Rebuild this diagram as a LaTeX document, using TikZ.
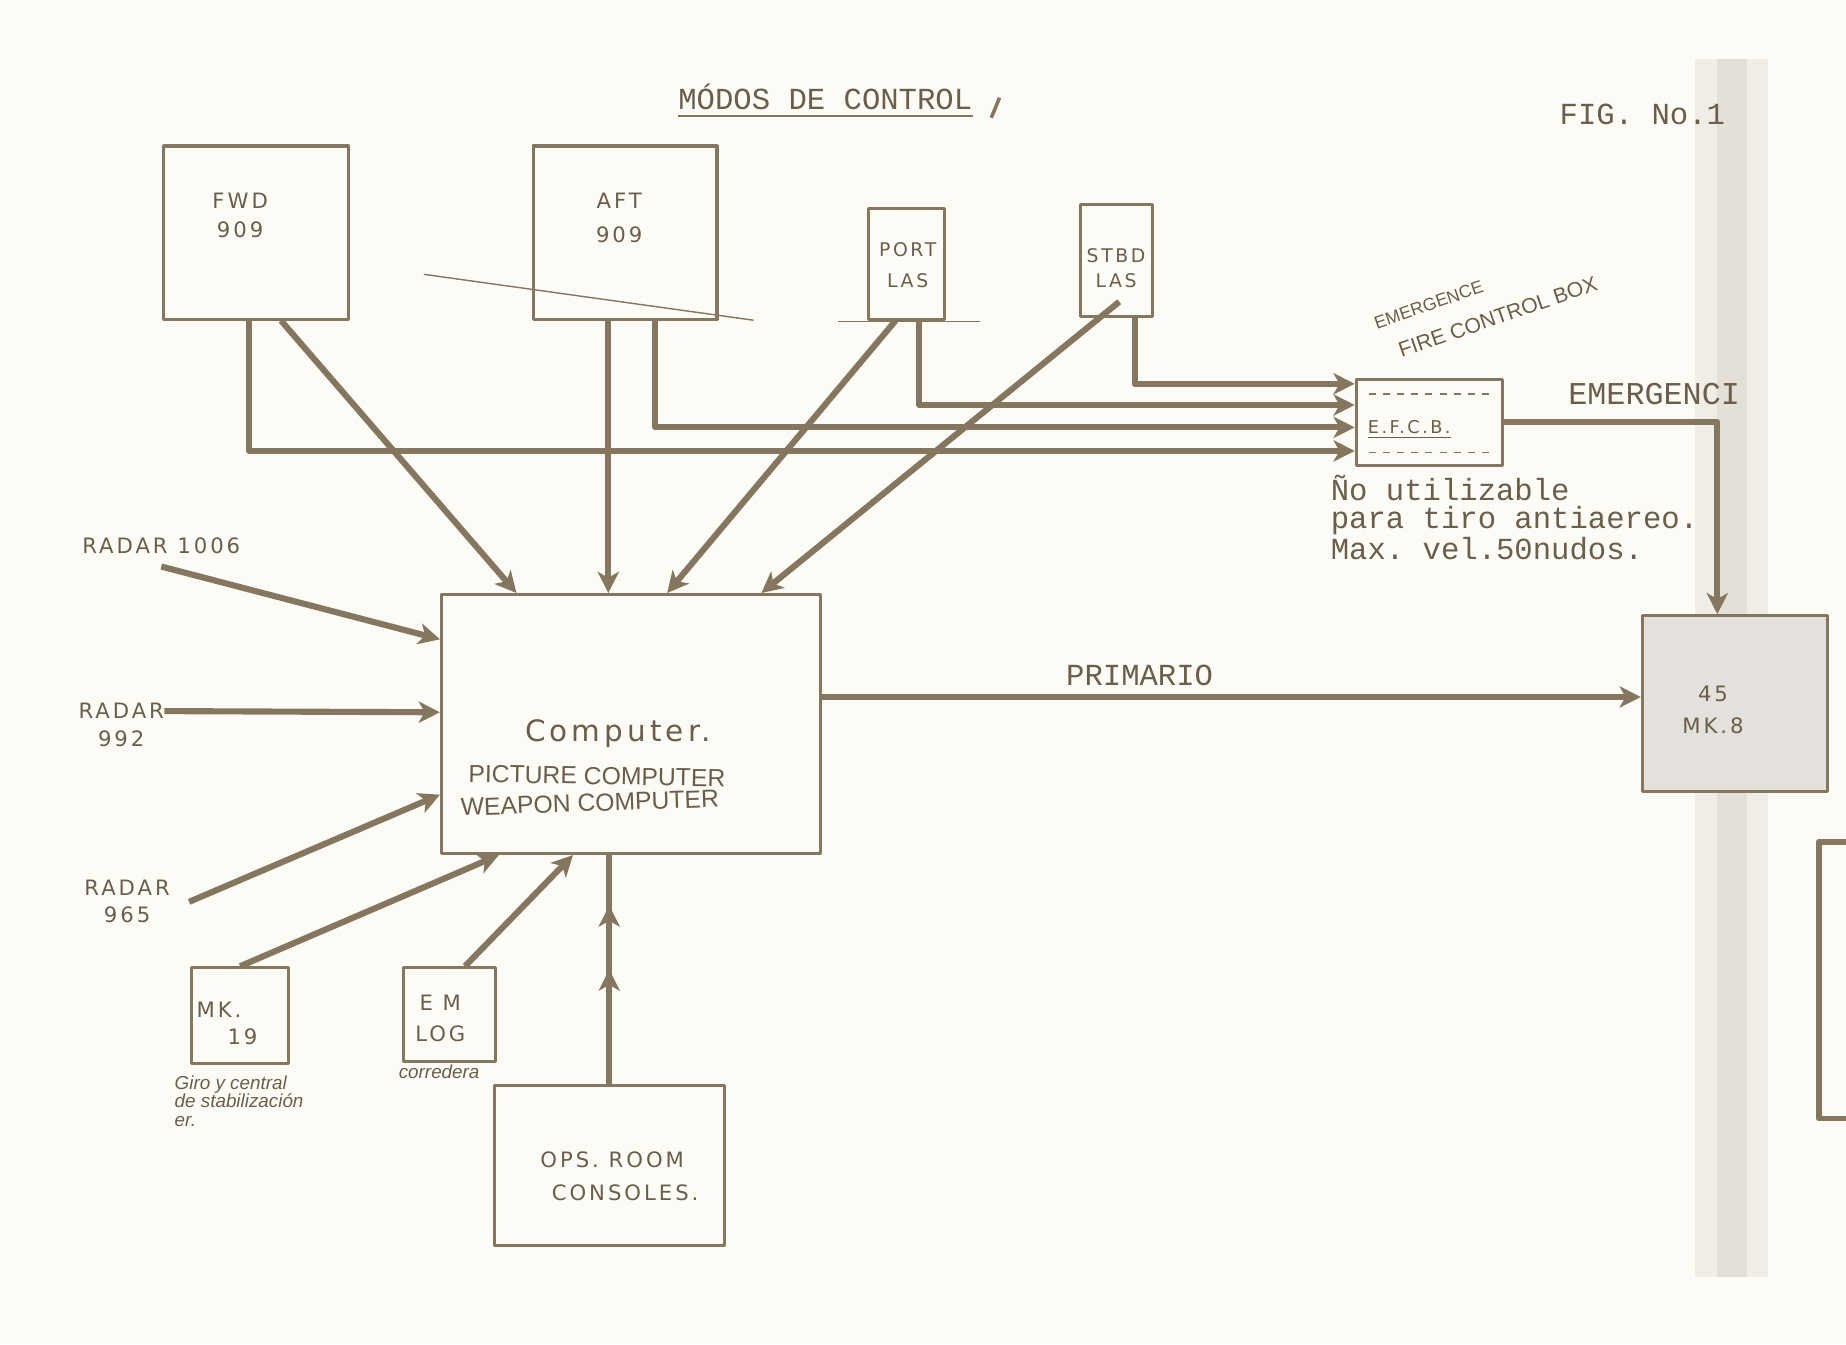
\documentclass[tikz,border=0pt]{standalone}
\usepackage{fontspec}
\setmonofont{Liberation Mono}
\newfontfamily\lettrage[LetterSpace=14]{DejaVu Sans}
\newfontfamily\manuscrit{Liberation Sans}
\usetikzlibrary{arrows.meta,decorations.markings}
\definecolor{encre}{HTML}{857660}
\definecolor{tinta}{HTML}{6B5E4B}
\definecolor{papier}{HTML}{FCFBF6}
\begin{document}
\begin{tikzpicture}[x=0.5pt,y=-0.5pt,line join=round]
\tikzstyle{boite} = [draw=encre,line width=1.3pt,inner sep=0pt]
\tikzstyle{liaison} = [draw=encre,line width=2.6pt,-{Stealth[length=9pt,width=9pt,inset=2.5pt]}]
\tikzstyle{tape} = [text=tinta,font=\ttfamily\fontsize{13}{12}\selectfont,inner sep=0pt]
\tikzstyle{pochoir} = [text=tinta,font=\lettrage\fontsize{9}{12.5}\selectfont,inner sep=0pt,align=center]
\tikzstyle{ecrit} = [text=tinta,font=\manuscrit\fontsize{10.5}{12}\selectfont,inner sep=0pt]
\tikzstyle{penche} = [text=tinta,font=\manuscrit\itshape\fontsize{8}{8}\selectfont,inner sep=0pt]
%fond de page
\fill[papier] (0,0) rectangle (1568,1142);
\useasboundingbox (0,0) rectangle (1568,1142);
\fill[encre,opacity=0.10] (1440,50) rectangle (1502,1085);
\fill[encre,opacity=0.10] (1458,50) rectangle (1484,1085);
%titre
\node[tape] (titre) at (701,82) {MÓDOS DE CONTROL};
\draw[encre,line width=1pt] ([yshift=-2.5pt]titre.south west) -- ([yshift=-2.5pt]titre.south east);
\draw[encre,line width=1.5pt] (849,83) -- (842,100);
\node[tape] (fig) at (1395,97) {FIG. No.1};
%boites
\node[boite,minimum width=78.5pt,minimum height=73.5pt] (fwd) at (217.5,197.5) {};
\node[boite,minimum width=78pt,minimum height=73.5pt] (aft) at (531,197.5) {};
\node[boite,minimum width=32pt,minimum height=47pt] (port) at (770,224) {};
\node[boite,minimum width=30.5pt,minimum height=47.5pt] (stbd) at (948.5,221.5) {};
\node[boite,minimum width=161pt,minimum height=110pt] (comp) at (536,615) {};
\node[boite,minimum width=78.5pt,minimum height=74.5pt,fill=encre!22] (mk8) at (1473.5,597.5) {};
\node[boite,minimum width=62pt,minimum height=36.5pt] (efcb) at (1214,358.5) {};
\node[boite,minimum width=41pt,minimum height=40.5pt] (mk19) at (204,862.5) {};
\node[boite,minimum width=39pt,minimum height=40pt] (emlog) at (382,862) {};
\node[boite,minimum width=97.5pt,minimum height=68pt] (ops) at (517.5,990) {};
%textes des boites
\node[pochoir] (tfwd) at (204,183) {FWD\\909};
\node[pochoir,font=\lettrage\fontsize{9}{14.5}\selectfont] (taft) at (526,185) {AFT\\909};
\node[pochoir,font=\lettrage\fontsize{8}{13}\selectfont] (tport) at (771,225) {PORT\\LAS};
\node[pochoir,font=\lettrage\fontsize{8}{10.5}\selectfont] (tstbd) at (948,228) {STBD\\LAS};
\node[pochoir,font=\lettrage\fontsize{12.5}{14}\selectfont] (tcomp) at (525,623) {Computer.};
\node[ecrit,rotate=-1] (tpic) at (507,659) {PICTURE COMPUTER};
\node[ecrit,rotate=2] (twea) at (501,682) {WEAPON COMPUTER};
\node[pochoir,font=\lettrage\fontsize{9}{13.5}\selectfont] (tmk8) at (1455,603) {45\\MK.8};
\node[pochoir,font=\lettrage\fontsize{7.5}{9}\selectfont] (tefcb) at (1197,365) {\underline{E.F.C.B.}};
\draw[encre,line width=0.8pt,dashed] ([xshift=6pt,yshift=-7pt]efcb.north west) -- ([xshift=-6pt,yshift=-7pt]efcb.north east);
\draw[encre,line width=0.6pt,dashed] ([xshift=6pt,yshift=6pt]efcb.south west) -- ([xshift=-6pt,yshift=6pt]efcb.south east);
\node[pochoir] (tmk19a) at (186,858) {MK.};
\node[pochoir] (tmk19b) at (206,881) {19};
\node[pochoir,font=\lettrage\fontsize{9}{13}\selectfont] (temlog) at (374,865) {E M\\LOG};
\node[pochoir] (tops1) at (520,985) {OPS. ROOM};
\node[pochoir] (tops2) at (531,1013) {CONSOLES.};
%radars
\node[pochoir,font=\lettrage\fontsize{9}{12}\selectfont] (r1006) at (137,464) {RADAR 1006};
\node[pochoir,font=\lettrage\fontsize{9}{12}\selectfont] (r992) at (103,616) {RADAR\\992};
\node[pochoir,font=\lettrage\fontsize{9}{11.5}\selectfont] (r965) at (108,766) {RADAR\\965};
%notes
\node[penche,font=\manuscrit\fontsize{9}{15}\selectfont,rotate=19,align=left] (tfcb) at (1262,258)
  {{\fontsize{7.5}{15}\selectfont EMERGENCE}\\\hspace*{6pt}FIRE CONTROL BOX};
\node[tape,font=\ttfamily\fontsize{13.5}{12}\selectfont] (temerg) at (1405,335) {EMERGENCI};
\node[tape,anchor=north west,align=left] (note) at (1130,403) {Ño utilizable\\para tiro antiaereo.\\Max. vel.50nudos.};
\node[tape] (prim) at (968,574) {PRIMARIO};
\node[penche,anchor=north west,align=left] (giro) at (148,913) {Giro y central\\de stabilización\\er.};
\node[penche] (corr) at (373,910) {corredera};
%traits parasites
\draw[encre,line width=0.6pt] (360,233) -- (640,272);
\draw[encre,line width=0.6pt] (712,273) -- (832,273);
\draw[encre,line width=2.5pt] (1568,715) -- (1545,715) -- (1545,950) -- (1568,950);
%liaisons vers E.F.C.B.
\draw[liaison] ([xshift=37pt]fwd.south west) |- ([yshift=-12.25pt]efcb.west);
\draw[liaison] ([xshift=52.5pt]aft.south west) |- ([yshift=-2.25pt]efcb.west);
\draw[liaison] ([xshift=22pt]port.south west) |- ([yshift=7.25pt]efcb.west);
\draw[liaison] ([xshift=23.5pt]stbd.south west) |- ([yshift=16.25pt]efcb.west);
%liaisons vers le calculateur
\draw[liaison] ([xshift=50.5pt]fwd.south west) -- ([xshift=32.5pt]comp.north west);
\draw[liaison] ([xshift=32.5pt]aft.south west) -- ([xshift=71.5pt]comp.north west);
\draw[liaison] ([xshift=12pt]port.south west) -- ([xshift=96.5pt]comp.north west);
\draw[liaison] ([xshift=17pt,yshift=7pt]stbd.south west) -- ([xshift=136.5pt]comp.north west);
\draw[liaison] ([yshift=-5pt]r1006.south) -- ([yshift=36pt]comp.west);
\draw[liaison] ([yshift=6pt]r992.east) -- ([yshift=5pt]comp.west);
\draw[liaison] ([xshift=8pt]r965.east) -- ([yshift=-30pt]comp.west);
\draw[liaison] (mk19.north) -- ([xshift=25pt]comp.south west);
\draw[liaison] ([xshift=6.5pt]emlog.north) -- ([xshift=56.5pt]comp.south west);
\draw[encre,line width=2.6pt,postaction={decorate},decoration={markings,
  mark=at position 0.5 with {\arrow{Stealth[length=9pt,width=9pt,inset=2.5pt]}},
  mark=at position 0.78 with {\arrow{Stealth[length=9pt,width=9pt,inset=2.5pt]}}}]
  (ops.north) -- (ops.north |- comp.south);
%sorties
\draw[liaison] ([yshift=11.5pt]comp.east) -- ([yshift=2.75pt]mk8.west);
\draw[liaison] (efcb.east) -| ([xshift=32.5pt]mk8.north west);
\end{tikzpicture}
\end{document}
